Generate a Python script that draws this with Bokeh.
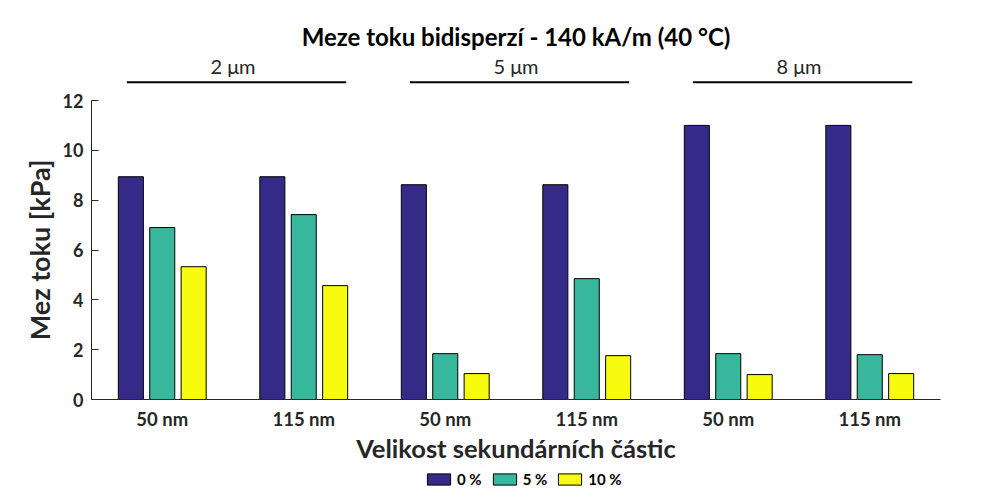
from bokeh.plotting import figure
from bokeh.layouts import column
from bokeh.models import Range1d, FixedTicker, ColumnDataSource, Legend, LegendItem
from bokeh.core.properties import value
from bokeh.embed import file_html
from bokeh.resources import INLINE

# ---- data ----
title_text = "Meze toku bidisperzí - 140 kA/m (40 °C)"
primary_sizes = ["2 μm", "5 μm", "8 μm"]
secondary_sizes = ["50 nm", "115 nm", "50 nm", "115 nm", "50 nm", "115 nm"]
series_names = ["0 %", "5 %", "10 %"]
v0 = [8.94, 8.94, 8.62, 8.62, 11.0, 11.0]
v5 = [6.90, 7.42, 1.84, 4.85, 1.84, 1.80]
v10 = [5.33, 4.57, 1.04, 1.76, 1.00, 1.04]
y_ticks = [0, 2, 4, 6, 8, 10, 12]

colors = ["#352a87", "#37b89d", "#f9fb0e"]
FONT = "Lato"
TXT = "#262626"

xs = list(range(1, len(secondary_sizes) + 1))
x_range = Range1d(0.5, 6.5)

# ---- header strip: title + primary particle size groups (y in pixels from top) ----
top = figure(width=984, height=90, output_backend="svg", toolbar_location=None,
             x_range=x_range, y_range=Range1d(90, 0),
             x_axis_type=None, y_axis_type=None,
             min_border_left=0, min_border_right=0, min_border_top=0, min_border_bottom=0)
top.outline_line_color = None
top.xgrid.visible = False
top.ygrid.visible = False
hx = [(xs[2 * i] + xs[2 * i + 1]) / 2 for i in range(3)]
x0 = [xs[2 * i] - 0.25 for i in range(3)]
x1 = [xs[2 * i + 1] + 0.30 for i in range(3)]
top.segment(x0=x0, x1=x1, y0=[81.7] * 3, y1=[81.7] * 3, line_color="black", line_width=2)
top.text(x=hx, y=[65] * 3, text=primary_sizes, text_align="center", text_baseline="middle",
         text_font=value(FONT), text_font_size="20px", text_color=TXT)
top.text(x=[3.5], y=[36], text=[title_text], text_align="center", text_baseline="middle",
         text_font=value(FONT), text_font_size="24px", text_font_style="bold", text_color="black")

# ---- main plot: frame x=91..940, y=100..399 ----
p = figure(width=984, height=376, output_backend="svg", toolbar_location=None,
           x_range=x_range, y_range=Range1d(0, 12),
           min_border_left=91, min_border_right=44, min_border_top=10,
           min_border_bottom=67)
p.background_fill_color = "white"
p.border_fill_color = "white"
p.outline_line_color = None
p.xgrid.visible = False
p.ygrid.visible = False

offsets = [-0.222, 0.0, 0.222]
sources = []
for vals, off, col in zip([v0, v5, v10], offsets, colors):
    src = ColumnDataSource(dict(x=[x + off for x in xs], top=vals))
    p.vbar(x="x", top="top", width=0.177, bottom=0, source=src,
           fill_color=col, line_color="black", line_width=1)
    sources.append(src)

xa = p.xaxis[0]
xa.ticker = FixedTicker(ticks=xs)
xa.major_label_overrides = {x: s for x, s in zip(xs, secondary_sizes)}
xa.major_tick_in = 0
xa.major_tick_out = 0
xa.minor_tick_line_color = None
xa.axis_line_color = TXT
xa.major_label_text_font = FONT
xa.major_label_text_font_size = "18.5px"
xa.major_label_text_font_style = "bold"
xa.major_label_text_color = TXT
xa.major_label_standoff = 8
xa.axis_label = "Velikost sekundárních částic"
xa.axis_label_text_font = FONT
xa.axis_label_text_font_size = "25.5px"
xa.axis_label_text_font_style = "bold"
xa.axis_label_text_color = TXT
xa.axis_label_standoff = 0

ya = p.yaxis[0]
ya.ticker = FixedTicker(ticks=y_ticks)
ya.major_tick_in = 7
ya.major_tick_out = 0
ya.minor_tick_line_color = None
ya.axis_line_color = TXT
ya.major_tick_line_color = TXT
ya.major_label_text_font = FONT
ya.major_label_text_font_size = "18px"
ya.major_label_text_font_style = "bold"
ya.major_label_text_color = TXT
ya.major_label_standoff = 8
ya.axis_label = "Mez toku [kPa]"
ya.axis_label_text_font = FONT
ya.axis_label_text_font_size = "27px"
ya.axis_label_text_font_style = "bold"
ya.axis_label_text_color = TXT
ya.axis_label_standoff = 4

# ---- legend strip below the plot (proxies share the bar data, far outside this strip's ranges) ----
p2 = figure(width=984, height=26, output_backend="svg", toolbar_location=None,
            x_range=Range1d(100, 101), y_range=Range1d(100, 101),
            x_axis_type=None, y_axis_type=None,
            min_border_left=0, min_border_right=0, min_border_top=0, min_border_bottom=0)
p2.outline_line_color = None
p2.xgrid.visible = False
p2.ygrid.visible = False
proxies = []
for src, col in zip(sources, colors):
    r = p2.vbar(x="x", top="top", width=0.177, bottom=0, source=src,
                fill_color=col, line_color="black", line_width=1)
    proxies.append(r)
legend = Legend(items=[LegendItem(label=n, renderers=[r]) for n, r in zip(series_names, proxies)],
                orientation="horizontal", location=(333, 4),
                glyph_width=29, glyph_height=14, label_standoff=4, spacing=8,
                label_text_font=FONT, label_text_font_size="15px", label_text_font_style="bold",
                label_text_color="black", border_line_color=None, background_fill_alpha=0,
                padding=0, margin=0, label_height=14)
p2.add_layout(legend, "center")

layout = column(top, p, p2, spacing=0)
open("out.html", "w").write(file_html(layout, INLINE))
